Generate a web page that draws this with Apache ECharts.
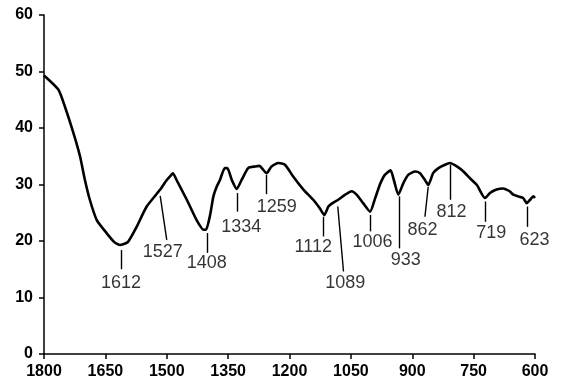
<!DOCTYPE html>
<html>
<head>
<meta charset="utf-8">
<script src="https://cdn.jsdelivr.net/npm/echarts@6/dist/echarts.min.js"></script>
<style>
  html, body { margin: 0; padding: 0; background: #fff; }
  #chart { width: 563px; height: 388px; }
</style>
</head>
<body>
<div id="chart"></div>
<script>
// wavenumber (cm-1) and transmittance
var wavenumbers = [1800, 1765, 1749, 1728, 1712, 1700, 1688, 1671, 1647, 1628, 1614, 1600, 1594, 1573, 1549, 1516, 1500, 1490, 1485, 1476, 1451, 1427, 1410, 1404, 1394, 1386, 1378, 1370, 1358, 1352, 1341, 1329, 1317, 1301, 1284, 1274, 1256, 1244, 1227, 1211, 1191, 1166, 1142, 1126, 1115, 1105, 1093, 1081, 1064, 1048, 1036, 1020, 1003, 991, 979, 967, 953, 945, 934, 922, 910, 893, 881, 869, 861, 849, 836, 820, 808, 791, 775, 759, 742, 722, 710, 694, 678, 670, 662, 653, 641, 629, 620, 612, 604, 600];
var transmittance = [49.3, 46.8, 43.8, 39.1, 35.0, 30.8, 27.3, 23.7, 21.4, 19.8, 19.3, 19.6, 19.9, 22.6, 26.1, 29.1, 30.8, 31.6, 32.0, 30.8, 27.3, 23.7, 22.0, 22.0, 24.6, 27.9, 29.6, 30.8, 32.9, 32.9, 30.8, 29.2, 30.8, 32.9, 33.2, 33.3, 32.0, 33.2, 33.8, 33.5, 31.4, 29.1, 27.3, 25.8, 24.6, 26.1, 26.8, 27.3, 28.2, 28.8, 28.2, 26.7, 25.2, 27.5, 30.0, 31.7, 32.5, 30.8, 28.2, 30.2, 31.7, 32.3, 32.0, 30.8, 29.9, 32.0, 32.9, 33.5, 33.8, 33.2, 32.3, 31.1, 29.9, 27.6, 28.5, 29.1, 29.3, 29.1, 28.8, 28.2, 27.9, 27.6, 26.7, 27.3, 27.9, 27.6];

// x axis ticks
var xMin = 600, xMax = 1800, xStep = 150;
var yMin = 0, yMax = 60, yStep = 10;

// peak annotations: label text, leader line ends and label anchor (data units)
var peakLabels = ['1612', '1527', '1408', '1334', '1259', '1112', '1089', '1006', '933', '862', '812', '719', '623'];
var leaderTop = [[1612, 18.4], [1516, 28.0], [1402, 21.4], [1327, 28.5], [1256, 31.7], [1117, 24.3], [1082, 26.1], [1003, 24.6], [932, 27.9], [861, 29.6], [808, 33.5], [722, 27.0], [619, 26.1]];
var leaderBottom = [[1612, 15.0], [1500, 20.2], [1402, 17.9], [1327, 25.2], [1256, 28.3], [1117, 20.8], [1068, 14.6], [1003, 21.7], [932, 18.7], [869, 24.3], [808, 27.3], [722, 23.4], [619, 22.5]];
var labelAt = [[1612, 12.6], [1510, 18.1], [1402, 16.1], [1318, 22.5], [1231, 26.1], [1142, 19.0], [1064, 12.5], [997, 19.9], [916, 16.7], [875, 21.9], [804, 25.2], [707, 21.4], [601, 20.1]];

var chart = echarts.init(document.getElementById('chart'));

var spectrum = wavenumbers.map(function (w, i) { return [w, transmittance[i]]; });
var leaders = leaderTop.map(function (p, i) {
  return [{ coord: p }, { coord: leaderBottom[i] }];
});
var labelPoints = labelAt.map(function (p, i) { return [p[0], p[1], peakLabels[i]]; });

var axisFont = { color: '#000', fontSize: 16, fontWeight: 'bold', fontFamily: 'Liberation Sans, Arial, sans-serif' };

var option = {
  animation: false,
  backgroundColor: '#fff',
  grid: {
    left: 44,
    right: 28,
    top: 15,
    bottom: 34,
    containLabel: false,
    outerBoundsMode: 'none'
  },
  xAxis: {
    type: 'value',
    inverse: true,
    min: xMin,
    max: xMax,
    interval: xStep,
    splitLine: { show: false },
    axisLine: { onZero: false, lineStyle: { color: '#000', width: 1.5 } },
    axisTick: { show: true, inside: false, length: 5, lineStyle: { color: '#000', width: 1.5 } },
    axisLabel: Object.assign({ margin: 10, formatter: function (v) { return String(v); } }, axisFont)
  },
  yAxis: {
    type: 'value',
    min: yMin,
    max: yMax,
    interval: yStep,
    splitLine: { show: false },
    axisLine: { show: true, lineStyle: { color: '#000', width: 1.5 } },
    axisTick: { show: true, inside: false, length: 5, lineStyle: { color: '#000', width: 1.5 } },
    axisLabel: Object.assign({ margin: 11 }, axisFont)
  },
  series: [
    {
      name: 'spectrum',
      type: 'line',
      data: spectrum,
      showSymbol: false,
      symbol: 'none',
      smooth: 0.2,
      lineStyle: { color: '#000', width: 2.6 },
      markLine: {
        silent: true,
        symbol: ['none', 'none'],
        label: { show: false },
        lineStyle: { color: '#000', width: 1.4, type: 'solid' },
        data: leaders
      },
      z: 3
    },
    {
      name: 'peaks',
      type: 'scatter',
      data: labelPoints,
      symbolSize: 1,
      itemStyle: { color: 'transparent' },
      label: {
        show: true,
        position: 'inside',
        formatter: function (p) { return p.data[2]; },
        color: '#000',
        textBorderWidth: 0,
        fontSize: 18,
        fontFamily: 'Liberation Sans, Arial, sans-serif'
      },
      emphasis: { disabled: true },
      z: 4
    }
  ]
};

chart.setOption(option);
</script>
</body>
</html>
